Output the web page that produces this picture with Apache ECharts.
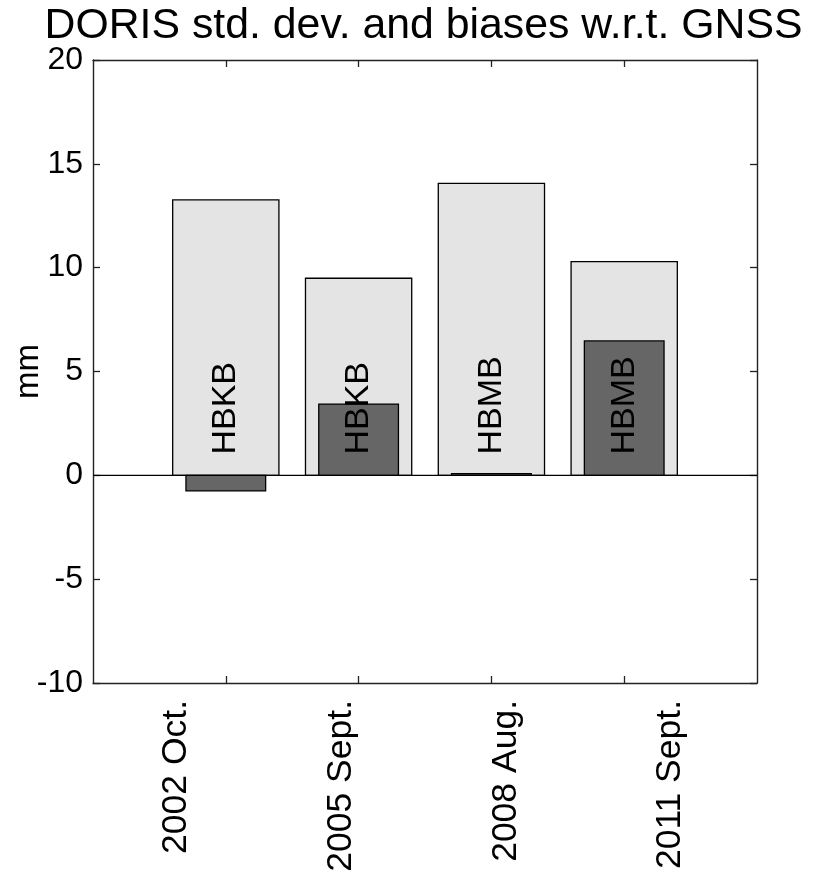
<!DOCTYPE html>
<html>
<head>
<meta charset="utf-8">
<script src="https://cdn.jsdelivr.net/npm/echarts@6/dist/echarts.min.js"></script>
<style>
  html, body { margin: 0; padding: 0; background: #fff; }
  #chart { width: 823px; height: 875px; }
</style>
</head>
<body>
<div id="chart"></div>
<script>
// Campaigns along the x axis (bars are centred on campaignX)
const campaigns = ['2002 Oct.', '2005 Sept.', '2008 Aug.', '2011 Sept.'];
const campaignX = [1, 2, 3, 4];
// DORIS vs GNSS statistics, mm
const stdDev = [13.26, 9.49, 14.06, 10.29];
const bias = [-0.75, 3.43, 0.08, 6.47];
// Station pair used for each campaign
const stationPair = ['HBKB', 'HBKB', 'HBMB', 'HBMB'];
const pairLabelY = [1, 1, 1, 1];
// Y axis ticks
const yTickMin = -10, yTickMax = 20, yTickStep = 5;

// Layout / styling
const FONT = "'Liberation Sans', Arial, Helvetica, sans-serif";
const AXIS_COLOR = '#222';
const labelSlots = [0.63, 1.87, 3.11, 4.35];   // x positions of the rotated campaign labels
const STD_WIDTH = 0.8, BIAS_WIDTH = 0.6;        // bar widths in x units

function barRenderer(width, fill) {
  return function (params, api) {
    const x = api.value(0), y = api.value(1);
    const a = api.coord([x - width / 2, Math.max(y, 0)]);
    const b = api.coord([x + width / 2, Math.min(y, 0)]);
    return {
      type: 'rect',
      shape: { x: a[0], y: a[1], width: b[0] - a[0], height: b[1] - a[1] },
      style: { fill: fill, stroke: '#000', lineWidth: 1.3 }
    };
  };
}

const axisLine = { show: true, onZero: false, lineStyle: { color: AXIS_COLOR, width: 1.4 } };
const tickStyle = { color: AXIS_COLOR, width: 1.3 };

const chart = echarts.init(document.getElementById('chart'), null, { renderer: 'canvas' });
chart.setOption({
  animation: false,
  backgroundColor: '#fff',
  graphic: [
    {
      type: 'text', x: 423.5, y: 26.5, silent: true,
      style: {
        text: 'DORIS std. dev. and biases w.r.t. GNSS',
        fontFamily: FONT, fontSize: 42.8, fill: '#000',
        align: 'center', verticalAlign: 'middle'
      }
    }
  ],
  grid: { left: 93, right: 66, top: 60, bottom: 192, containLabel: false, outerBoundsMode: 'none' },
  xAxis: [
    {
      type: 'value', min: 0, max: 5, interval: 1, position: 'bottom',
      axisLine: axisLine,
      axisTick: { show: true, inside: true, length: 7, lineStyle: tickStyle, customValues: campaignX },
      axisLabel: {
        show: true, customValues: labelSlots, rotate: 90, margin: 17,
        fontFamily: FONT, fontSize: 35.5, color: '#000',
        formatter: function (v) {
          const i = labelSlots.findIndex(s => Math.abs(s - v) < 1e-6);
          return i >= 0 ? campaigns[i] : '';
        }
      },
      splitLine: { show: false }
    },
    {
      type: 'value', min: 0, max: 5, interval: 1, position: 'top',
      axisLine: axisLine,
      axisTick: { show: true, inside: true, length: 7, lineStyle: tickStyle, customValues: campaignX },
      axisLabel: { show: false },
      splitLine: { show: false }
    }
  ],
  yAxis: [
    {
      type: 'value', min: yTickMin, max: yTickMax, interval: yTickStep, position: 'left',
      name: 'mm', nameLocation: 'middle', nameGap: 48, nameRotate: 90, nameMoveOverlap: false,
      nameTextStyle: { fontFamily: FONT, fontSize: 33, color: '#000' },
      axisLine: axisLine,
      axisTick: { show: true, inside: true, length: 7, lineStyle: tickStyle },
      axisLabel: { fontFamily: FONT, fontSize: 32, color: '#000', margin: 10 },
      splitLine: { show: false }
    },
    {
      type: 'value', min: yTickMin, max: yTickMax, interval: yTickStep, position: 'right',
      axisLine: axisLine,
      axisTick: { show: true, inside: true, length: 7, lineStyle: tickStyle },
      axisLabel: { show: false },
      splitLine: { show: false }
    }
  ],
  series: [
    {
      name: 'std. dev.', type: 'custom', xAxisIndex: 0, yAxisIndex: 0, z: 2,
      renderItem: barRenderer(STD_WIDTH, '#e4e4e4'),
      data: campaignX.map((x, i) => [x, stdDev[i]])
    },
    {
      name: 'bias', type: 'custom', xAxisIndex: 0, yAxisIndex: 0, z: 3,
      renderItem: barRenderer(BIAS_WIDTH, '#666666'),
      data: campaignX.map((x, i) => [x, bias[i]])
    },
    {
      name: 'baseline', type: 'line', xAxisIndex: 0, yAxisIndex: 0, z: 4,
      symbol: 'none', silent: true,
      lineStyle: { color: '#000', width: 1.3 },
      data: [[0, 0], [5, 0]]
    },
    {
      name: 'station pair', type: 'custom', xAxisIndex: 0, yAxisIndex: 0, z: 5,
      renderItem: function (params, api) {
        const p = api.coord([api.value(0), api.value(1)]);
        return {
          type: 'text', x: p[0], y: p[1], rotation: Math.PI / 2,
          style: {
            text: stationPair[params.dataIndex], fontFamily: FONT, fontSize: 34,
            fill: '#000', align: 'left', verticalAlign: 'middle'
          }
        };
      },
      data: campaignX.map((x, i) => [x, pairLabelY[i]])
    }
  ]
});
</script>
</body>
</html>
